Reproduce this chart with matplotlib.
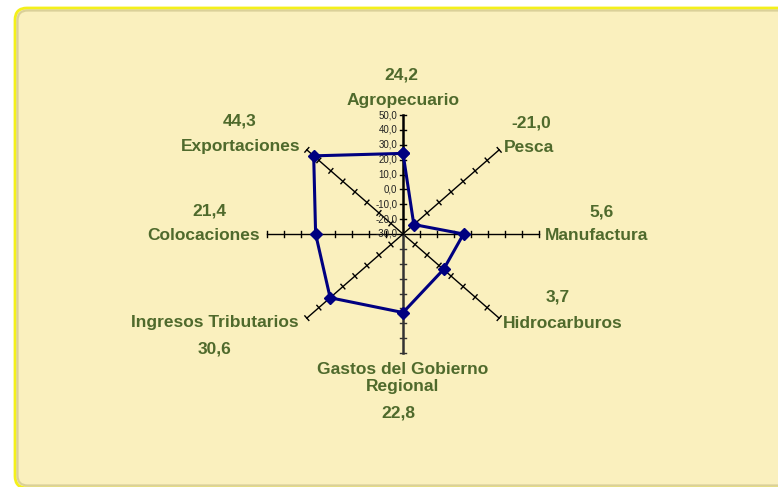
import numpy as np
import matplotlib.pyplot as plt
from matplotlib.patches import FancyBboxPatch

categories = ["Agropecuario", "Pesca", "Manufactura", "Hidrocarburos",
              "Gastos del Gobierno\nRegional", "Ingresos Tributarios",
              "Colocaciones", "Exportaciones"]
values = [24.2, -21.0, 5.6, 3.7, 22.8, 30.6, 21.4, 44.3]
value_labels = ["24,2", "-21,0", "5,6", "3,7", "22,8", "30,6", "21,4", "44,3"]
scale_ticks = [50, 40, 30, 20, 10, 0, -10, -20, -30]
r_min, r_max = -30, 50

W, H = 778, 487
cx, cy = 403, 234          # chart centre in pixels (from top-left)
rx, ry = 136, 119          # pixel length of a full axis, horizontal / vertical
span = r_max - r_min

green = "#4F6A2C"
navy = "#000080"
plt.rcParams["font.family"] = ["Liberation Sans", "DejaVu Sans"]

fig = plt.figure(figsize=(W / 100, H / 100), dpi=100)
fig.patch.set_facecolor("white")

# background panel in pixel coordinates
bg = fig.add_axes([0, 0, 1, 1])
bg.set_xlim(0, W)
bg.set_ylim(H, 0)
bg.axis("off")
bg.add_patch(FancyBboxPatch((15, 8), 840, 480, boxstyle="round,pad=0,rounding_size=12",
                            facecolor="#FAF0BE", edgecolor="#F4F01A", lw=2.0))
bg.add_patch(FancyBboxPatch((17.5, 10.5), 840, 475, boxstyle="round,pad=0,rounding_size=10",
                            facecolor="none", edgecolor="#D2C890", lw=1.6, alpha=0.8))

# radar axes: data units are radial units (value - r_min)
ax = fig.add_axes([0, 0, 1, 1])
ax.set_xlim(-cx / rx * span, (W - cx) / rx * span)
ax.set_ylim(-(H - cy) / ry * span, cy / ry * span)
ax.axis("off")

n = len(categories)
angles = np.pi / 2 - np.arange(n) * 2 * np.pi / n

for i, a in enumerate(angles):
    ca, sa = np.cos(a), np.sin(a)
    lw = 1.8 if i in (0, 4) else 1.0
    col = "black" if i != 4 else "#333333"
    ax.plot([0, span * ca], [0, span * sa], color=col, lw=lw, zorder=2)
    # tick marks perpendicular in screen space
    dx, dy = ca * rx, sa * ry
    norm = np.hypot(dx, dy)
    px_, py_ = -dy / norm, dx / norm
    tl = 3.0
    for t in range(10, span + 1, 10):
        x0, y0 = t * ca, t * sa
        ox, oy = px_ * tl * span / rx, py_ * tl * span / ry
        ax.plot([x0 - ox, x0 + ox], [y0 - oy, y0 + oy], color=col, lw=1.0, zorder=2)

# scale labels on the vertical axis
for v in scale_ticks:
    ax.annotate(f"{v:.1f}".replace(".", ","), xy=(0, v - r_min), xytext=(-4, 0),
                textcoords="offset points", ha="right", va="center",
                fontsize=7, color="#222222", zorder=3)

# data polygon
r = np.array(values) - r_min
xs = np.append(r * np.cos(angles), r[0] * np.cos(angles[0]))
ys = np.append(r * np.sin(angles), r[0] * np.sin(angles[0]))
ax.plot(xs, ys, color=navy, lw=2.2, marker="D", markersize=6.5, zorder=4)

# category names and values (pixel positions, top-left origin)
name_pos = [(403, 100, "center"), (504, 147, "left"), (545, 235, "left"),
            (503, 323, "left"), (403, 378, "center"), (215, 323, "center"),
            (204, 235, "center"), (241, 147, "center")]
val_pos = [(401, 75), (531, 123), (602, 212), (558, 297),
           (398, 413), (215, 349), (209, 211), (240, 121)]
for name, (x, y, ha), lab, (vx, vy) in zip(categories, name_pos, value_labels, val_pos):
    bg.text(x, y, name, ha=ha, va="center", fontsize=12.5, fontweight="bold",
            color=green, linespacing=1.2)
    bg.text(vx, vy, lab, ha="center", va="center", fontsize=12.5, fontweight="bold",
            color=green)

fig.savefig("out.png", dpi=100)
